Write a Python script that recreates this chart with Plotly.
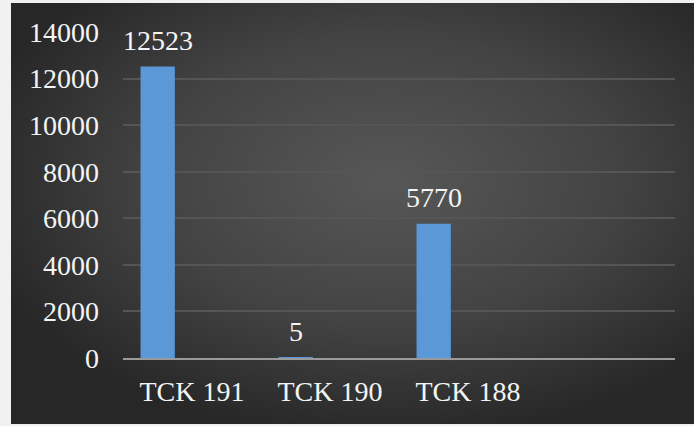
import base64
import plotly.graph_objects as go

categories = ["TCK 191", "TCK 190", "TCK 188", " "]
series1 = [12523, 5, 5770, None]
series2 = [0, 0, 0, None]
series3 = [0, 0, 0, None]
y_ticks = [0, 2000, 4000, 6000, 8000, 10000, 12000, 14000]

W, H = 694, 426
L, R, T, B = 123, 19, 32, 68
PW, PH = W - L - R, H - T - B

svg = f'''<svg xmlns="http://www.w3.org/2000/svg" width="{W}" height="{H}" viewBox="0 0 {W} {H}">
<defs><radialGradient id="g" cx="0.55" cy="0.42" r="0.62" gradientUnits="objectBoundingBox">
<stop offset="0" stop-color="#575757"/><stop offset="0.55" stop-color="#434343"/><stop offset="1" stop-color="#272727"/></radialGradient></defs>
<rect x="0" y="0" width="{W}" height="{H}" fill="#f1f1f1"/>
<rect x="11" y="3" width="{W-11}" height="421" fill="url(#g)"/>
</svg>'''
src = "data:image/svg+xml;base64," + base64.b64encode(svg.encode()).decode()

font = "Times New Roman, Liberation Serif, DejaVu Serif, serif"
fsize = 28
bar_color = "#5a98d8"

fig = go.Figure()
for name, vals in [("S1", series1), ("S2", series2), ("S3", series3)]:
    fig.add_trace(go.Bar(x=categories, y=vals, name=name, marker=dict(color=bar_color, line=dict(width=0)),
                         hoverinfo="skip"))

for c, v in zip(categories, series1):
    if v is not None:
        fig.add_annotation(x=c, y=v, text=str(v), showarrow=False, xshift=-34.5, yshift=26,
                           yanchor="middle", font=dict(family=font, size=fsize, color="#f4f4f4"))

fig.add_layout_image(dict(source=src, xref="paper", yref="paper", x=-L / PW, y=1 + T / PH,
                          sizex=W / PW, sizey=H / PH, sizing="stretch", xanchor="left", yanchor="top",
                          layer="below"))

fig.update_layout(
    width=W, height=H, margin=dict(l=L, r=R, t=T, b=B),
    paper_bgcolor="rgba(0,0,0,0)", plot_bgcolor="rgba(0,0,0,0)",
    showlegend=False, barmode="group", bargap=0.254, bargroupgap=0,
    font=dict(family=font, size=fsize, color="#f4f4f4"),
)
fig.update_xaxes(type="category", categoryorder="array", categoryarray=categories, range=[-0.5, 3.5],
                 showline=True, linecolor="#9a9a9a", linewidth=2, showgrid=False, ticks="",
                 ticklabelstandoff=7, tickfont=dict(family=font, size=fsize, color="#f4f4f4"))
fig.update_yaxes(range=[0, 14000], tickvals=y_ticks, tickformat="d", showgrid=True, gridcolor="#555555",
                 gridwidth=1.5, zeroline=False, showline=False, ticks="", ticklabelstandoff=23,
                 tickfont=dict(family=font, size=fsize, color="#f4f4f4"))

fig.write_html("out.html", config={"displayModeBar": False},
               post_script="document.body.style.margin='0';document.body.style.overflow='hidden';")
